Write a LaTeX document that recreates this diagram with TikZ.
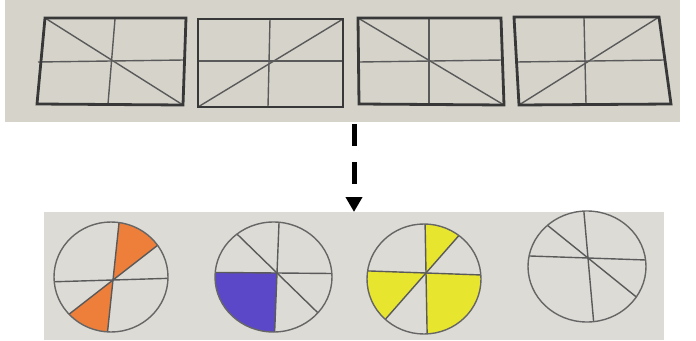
\documentclass[tikz,border=0pt]{standalone}
\usetikzlibrary{arrows.meta}
\definecolor{panelA}{HTML}{D6D3CB}
\definecolor{panelB}{HTML}{DCDBD6}
\definecolor{frameC}{HTML}{383838}
\definecolor{gridC}{HTML}{5A5A5A}
\definecolor{discC}{HTML}{666666}
\definecolor{orangeC}{HTML}{EE7F3B}
\definecolor{blueC}{HTML}{5B48C9}
\definecolor{yellowC}{HTML}{E8E52E}
\begin{document}
\begin{tikzpicture}[x=1pt,y=-1pt,
  frame/.style={draw=frameC,line width=2.8pt,line join=miter},
  grid/.style={draw=gridC,line width=1.4pt},
  disc/.style={draw=discC,line width=1.4pt},
  flow/.style={line width=5pt,dash pattern=on 22pt off 16pt,-{Triangle[width=16pt,length=15pt]}}]
\useasboundingbox (0,0) rectangle (696,340);
% panels
\fill[panelA] (5,0) rectangle (680,122);
\fill[panelB] (44,212) rectangle (664,340);
% rectangle 1
\draw[grid] (115,19) -- (108,104);
\draw[grid] (38,62) -- (184,60);
\draw[grid] (45,18) -- (183,105);
\draw[frame] (45,18) -- (186,18) -- (183,105) -- (37,104) -- cycle;
% rectangle 2
\draw[grid] (270,19) -- (268,107);
\draw[grid] (199,61) -- (342,61);
\draw[grid] (198,107) -- (343,19);
\draw[frame] (198,19) -- (343,19) -- (343,107) -- (198,107) -- cycle;
% rectangle 3
\draw[grid] (429,19) -- (429,104);
\draw[grid] (359,62) -- (503,60);
\draw[grid] (358,18) -- (504,105);
\draw[frame] (358,18) -- (501,18) -- (504,105) -- (359,104) -- cycle;
% rectangle 4
\draw[grid] (584,18) -- (586,104);
\draw[grid] (516,62) -- (665,60);
\draw[grid] (519,105) -- (659,17);
\draw[frame] (514,17) -- (659,17) -- (671,104) -- (519,105) -- cycle;
% arrow
\coordinate (arrS) at (354,124);
\coordinate (arrE) at (354,212);
\draw[flow] (arrS) -- (arrE);
% circle 1
\begin{scope}
  \clip (111,277) ellipse [x radius=57pt, y radius=55pt];
  \fill[orangeC] (113,280) -- (125,166) -- (203,210) -- cycle;
  \fill[orangeC] (113,280) -- (101,394) -- (23,350) -- cycle;
  \draw[grid] (125,166) -- (101,394);
  \draw[grid] (203,210) -- (23,350);
  \draw[grid] (213,277) -- (13,283);
\end{scope}
\draw[disc] (111,277) ellipse [x radius=57pt, y radius=55pt];
% circle 2
\begin{scope}
  \clip (273.5,277) ellipse [x radius=58.5pt, y radius=55pt];
  \fill[blueC] (277,273) -- (167,272) -- (167,400) -- (272,400) -- cycle;
  \draw[grid] (281,173) -- (273,373);
  \draw[grid] (387,274) -- (167,272);
  \draw[grid] (201,199) -- (353,347);
\end{scope}
\draw[disc] (273.5,277) ellipse [x radius=58.5pt, y radius=55pt];
% circle 3
\begin{scope}
  \clip (424,279) ellipse [x radius=57pt, y radius=55pt];
  \fill[yellowC] (426,273) -- (424,165) -- (498,191) -- cycle;
  \fill[yellowC] (426,273) -- (314,269) -- (354,355) -- cycle;
  \fill[yellowC] (426,273) -- (538,277) -- (538,400) -- (428,400) -- cycle;
  \draw[grid] (424,165) -- (428,381);
  \draw[grid] (314,269) -- (538,277);
  \draw[grid] (498,191) -- (354,355);
\end{scope}
\draw[disc] (424,279) ellipse [x radius=57pt, y radius=55pt];
% circle 4
\begin{scope}
  \clip (587,266.5) ellipse [x radius=59pt, y radius=55.5pt];
  \draw[grid] (578,145) -- (598,371);
  \draw[grid] (472,254) -- (704,262);
  \draw[grid] (495,183) -- (681,333);
\end{scope}
\draw[disc] (587,266.5) ellipse [x radius=59pt, y radius=55.5pt];
\end{tikzpicture}
\end{document}
